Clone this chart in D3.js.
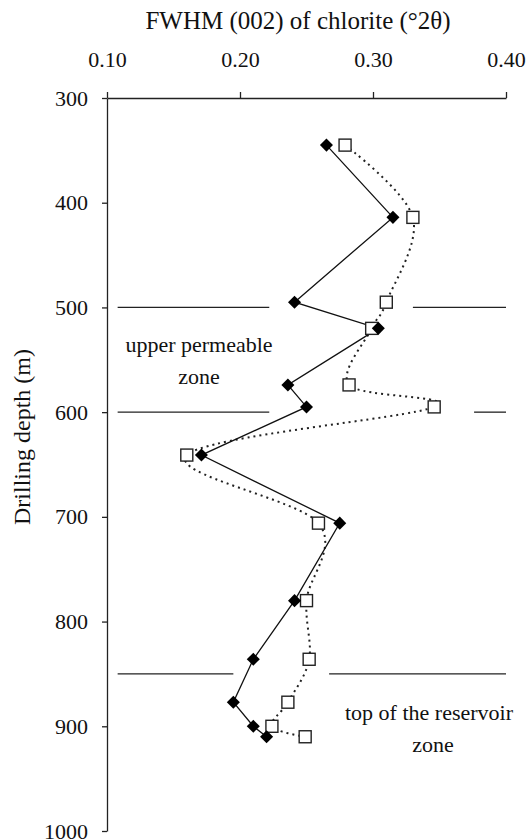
<!DOCTYPE html>
<html>
<head>
<meta charset="utf-8">
<script src="https://cdn.jsdelivr.net/npm/d3@7"></script>
<style>
  body { margin: 0; background: #fff; }
</style>
</head>
<body>
<svg id="chart"></svg>
<script>
// Size of the picture
const width = 530;
const height = 839;
const serif = '"Liberation Serif", "DejaVu Serif", "Times New Roman", serif';

// Depths of the samples (m)
const depths = [345, 414, 495, 520, 574, 595, 641, 706, 780, 836, 877, 900, 910];
// FWHM, filled diamonds (solid line)
const fwhmDiamond = [0.265, 0.315, 0.241, 0.304, 0.236, 0.250, 0.171, 0.275, 0.241, 0.210, 0.195, 0.210, 0.220];
// FWHM, open squares (dotted line)
const fwhmSquare = [0.279, 0.330, 0.310, 0.299, 0.282, 0.346, 0.160, 0.259, 0.250, 0.252, 0.236, 0.224, 0.249];

// Zone boundaries: depth and the FWHM spans where the line is drawn
const zoneDepths = [500, 600, 850];
const zoneSpans = [
  [[0.108, 0.222], [0.330, 0.400]],
  [[0.108, 0.222], [0.376, 0.400]],
  [[0.108, 0.195], [0.267, 0.400]]
];

const xTicks = [0.10, 0.20, 0.30, 0.40];
const yTicks = [300, 400, 500, 600, 700, 800, 900, 1000];

const svg = d3.select('#chart').attr('width', width).attr('height', height);

const x = d3.scaleLinear().domain([0.1, 0.4]).range([107, 506]);
const y = d3.scaleLinear().domain([300, 1000]).range([98, 831]);

// Axes
const xAxis = svg.append('g').attr('transform', `translate(0, ${y(300)})`)
  .call(d3.axisTop(x).tickValues(xTicks).tickFormat(d3.format('.2f'))
    .tickSizeInner(6).tickSizeOuter(0).tickPadding(25));
const yAxis = svg.append('g').attr('transform', `translate(${x(0.1)}, 0)`)
  .call(d3.axisLeft(y).tickValues(yTicks).tickFormat(d3.format('d'))
    .tickSizeInner(5).tickSizeOuter(0).tickPadding(14));

[xAxis, yAxis].forEach(a => {
  a.attr('font-family', null).attr('font-size', null);
  a.selectAll('text').style('font-family', serif).style('font-size', '22px').attr('fill', '#111');
  a.selectAll('line, path').attr('stroke', '#222').attr('stroke-width', 1.3);
});

// Axis titles
svg.append('text')
  .attr('x', 298).attr('y', 29)
  .attr('text-anchor', 'middle')
  .style('font-family', serif).style('font-size', '25px').attr('fill', '#111')
  .text('FWHM (002) of chlorite (°2θ)');

svg.append('text')
  .attr('transform', 'translate(30, 437) rotate(-90)')
  .attr('text-anchor', 'middle')
  .style('font-family', serif).style('font-size', '24px').attr('fill', '#111')
  .text('Drilling depth (m)');

// Zone boundaries
zoneDepths.forEach((d, i) => {
  svg.selectAll(null).data(zoneSpans[i]).enter().append('line')
    .attr('x1', s => x(s[0])).attr('x2', s => x(s[1]))
    .attr('y1', y(d)).attr('y2', y(d))
    .attr('stroke', '#222').attr('stroke-width', 1.3);
});

// Zone labels
const upper = svg.append('text').attr('text-anchor', 'middle')
  .style('font-family', serif).style('font-size', '22px').attr('fill', '#111');
upper.append('tspan').attr('x', 199).attr('y', 352).text('upper permeable');
upper.append('tspan').attr('x', 199).attr('y', 384).text('zone');

const reservoir = svg.append('text').attr('text-anchor', 'middle')
  .style('font-family', serif).style('font-size', '22px').attr('fill', '#111');
reservoir.append('tspan').attr('x', 429).attr('y', 720).text('top of the reservoir');
reservoir.append('tspan').attr('x', 433).attr('y', 752).text('zone');

// Lines
const diamondData = depths.map((d, i) => ({depth: d, v: fwhmDiamond[i]}));
const squareData = depths.map((d, i) => ({depth: d, v: fwhmSquare[i]}));

svg.append('path').datum(squareData)
  .attr('fill', 'none').attr('stroke', '#222').attr('stroke-width', 2)
  .attr('stroke-dasharray', '2,4')
  .attr('d', d3.line().x(d => x(d.v)).y(d => y(d.depth)).curve(d3.curveCatmullRom.alpha(0)));

svg.append('path').datum(diamondData)
  .attr('fill', 'none').attr('stroke', '#111').attr('stroke-width', 1.3)
  .attr('d', d3.line().x(d => x(d.v)).y(d => y(d.depth)));

// Markers
svg.selectAll('.sq').data(squareData).enter().append('rect')
  .attr('class', 'sq')
  .attr('x', d => x(d.v) - 6).attr('y', d => y(d.depth) - 6)
  .attr('width', 12).attr('height', 12)
  .attr('fill', '#fff').attr('stroke', '#222').attr('stroke-width', 1.4);

svg.selectAll('.dia').data(diamondData).enter().append('path')
  .attr('class', 'dia')
  .attr('d', d3.symbol().type(d3.symbolSquare).size(85))
  .attr('transform', d => `translate(${x(d.v)}, ${y(d.depth)}) rotate(45)`)
  .attr('fill', '#000');
</script>
</body>
</html>
